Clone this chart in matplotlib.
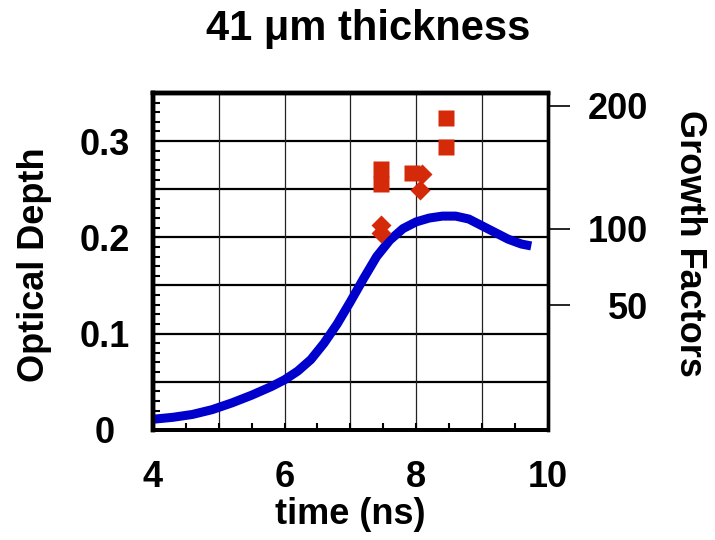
import numpy as np
import matplotlib
matplotlib.use("Agg")
import matplotlib.pyplot as plt
from matplotlib.ticker import MultipleLocator, FixedLocator

plt.rcParams['font.family'] = ['Liberation Sans', 'DejaVu Sans']
plt.rcParams['font.weight'] = 'bold'

# Optical depth curve (blue)
time_ns = [4.0, 4.3, 4.6, 4.9, 5.2, 5.5, 5.8, 6.0, 6.2, 6.4, 6.6, 6.8, 7.0,
           7.2, 7.4, 7.6, 7.8, 8.0, 8.2, 8.4, 8.6, 8.8, 9.0, 9.2, 9.4, 9.6, 9.75]
optical_depth = [0.011, 0.013, 0.016, 0.021, 0.028, 0.036, 0.045, 0.052, 0.061,
                 0.073, 0.090, 0.110, 0.133, 0.157, 0.180, 0.197, 0.209, 0.216,
                 0.220, 0.222, 0.222, 0.219, 0.212, 0.205, 0.198, 0.193, 0.191]

# Growth factors (red)
sq_time = [7.47, 7.47, 7.94, 8.45, 8.45]
sq_growth = [146, 134, 143, 189, 164]
dia_time = [7.46, 7.46, 8.09, 8.06]
dia_growth = [103, 97, 142, 129]

right_ticks = [50, 100, 200]

K, P = 0.0087, 0.69
def fwd(g):
    g = np.asarray(g, dtype=float)
    return K * np.power(np.clip(g, 0, None), P)
def inv(v):
    v = np.asarray(v, dtype=float)
    return np.power(np.clip(v, 0, None) / K, 1.0 / P)

FS = 26

fig = plt.figure(figsize=(7.15, 5.4), dpi=100)
ax = fig.add_axes([0.214, 0.204, 0.552, 0.624])

ax.set_xlim(4, 10)
ax.set_ylim(0, 0.35)

# grid
for yv in np.arange(0.05, 0.35, 0.05):
    ax.axhline(yv, color='black', lw=1.6, zorder=1)
for xv in range(5, 10):
    ax.axvline(xv, color='#222222', lw=0.9, zorder=1)

ax.plot(time_ns, optical_depth, color='#0000CC', lw=6.5, solid_capstyle='butt', zorder=3)

ax2 = ax.twinx()
ax2.set_yscale('function', functions=(fwd, inv))
ax2.set_ylim(0, float(inv(0.35)))
ax2.plot(sq_time, sq_growth, 's', color='#D42A0A', ms=11, mec='none', zorder=4)
ax2.plot(dia_time, dia_growth, 'D', color='#D42A0A', ms=10, mec='none', zorder=4)
ax2.yaxis.set_major_locator(FixedLocator(right_ticks))
ax2.yaxis.set_minor_locator(FixedLocator([]))
ax2.set_yticklabels([str(t) for t in right_ticks])
ax2.tick_params(axis='y', direction='out', length=16, width=1.2, labelsize=FS, pad=56)
for t in ax2.get_yticklabels():
    t.set_horizontalalignment('right')
ax2.set_ylabel('Growth Factors', fontsize=FS, fontweight='bold', rotation=270, va='center')
ax2.yaxis.set_label_coords(1.36, 0.552)

ax.set_xticks([4, 6, 8, 10])
ax.xaxis.set_minor_locator(MultipleLocator(0.5))
ax.set_yticks([0, 0.1, 0.2, 0.3])
ax.set_yticklabels(['0', '0.1', '0.2', '0.3'])
ax.yaxis.set_minor_locator(MultipleLocator(0.01))
ax.tick_params(axis='x', which='major', direction='in', length=5, width=1.5, labelsize=FS, pad=22)
ax.tick_params(axis='x', which='minor', direction='in', length=5, width=1.5)
ax.tick_params(axis='y', which='major', direction='in', length=5, width=1.5, labelsize=FS, pad=35)
ax.tick_params(axis='y', which='minor', direction='in', length=5, width=1.5)
for t in ax.get_yticklabels():
    t.set_horizontalalignment('center')

ax.set_xlabel('time (ns)', fontsize=FS, fontweight='bold', labelpad=1)
ax.set_ylabel('Optical Depth', fontsize=FS, fontweight='bold', va='center')
ax.yaxis.set_label_coords(-0.30, 0.49)

for a in (ax, ax2):
    a.spines['left'].set_linewidth(3.2)
    a.spines['top'].set_linewidth(3.2)
    a.spines['right'].set_linewidth(2.4)
    a.spines['bottom'].set_linewidth(2.8)

fig.suptitle('41 \u03bcm thickness', x=0.515, y=0.983, fontsize=30, fontweight='bold')

fig.savefig('out.png', dpi=100)
